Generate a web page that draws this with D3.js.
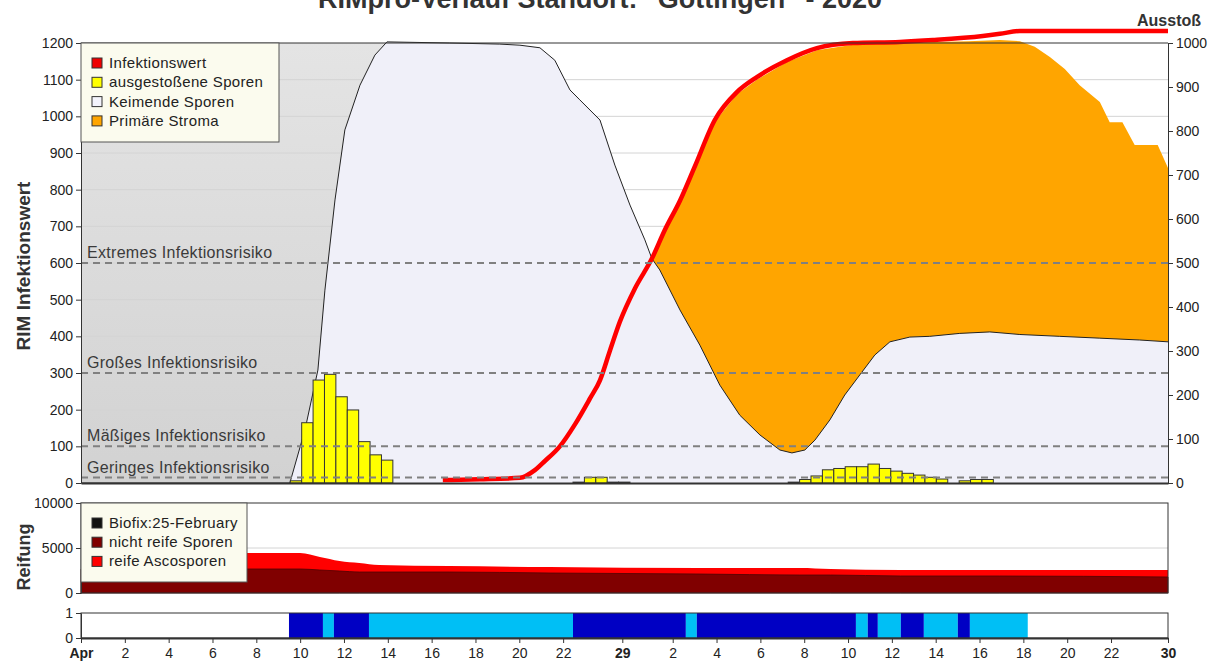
<!DOCTYPE html>
<html>
<head>
<meta charset="utf-8">
<script src="https://cdn.jsdelivr.net/npm/d3@7/dist/d3.min.js"></script>
<style>
body { margin: 0; background: #fff; }
svg { display: block; font-family: "Liberation Sans", Arial, sans-serif; }
</style>
</head>
<body>
<div class="chart"></div>
<script>
// ---- data (time axis in days from the start of the chart) ----
const xTickDays = [0, 2, 4, 6, 8, 10, 12, 14, 16, 18, 20, 22, 24.7, 27, 29, 31, 33, 35, 37, 39, 41, 43, 45, 47, 49.6]
const xTickLabels = ["Apr", "2", "4", "6", "8", "10", "12", "14", "16", "18", "20", "22", "29", "2", "4", "6", "8", "10", "12", "14", "16", "18", "20", "22", "30"]
const boldTicks = ["Apr", "29", "30"]

const leftTicks = [0, 100, 200, 300, 400, 500, 600, 700, 800, 900, 1000, 1100, 1200]
const rightTicks = [0, 100, 200, 300, 400, 500, 600, 700, 800, 900, 1000]
const reifTicks = [0, 5000, 10000]
const stripTicks = [0, 1]

// Keimende Sporen (left axis)
const keimT = [0, 9.53, 10.22, 10.81, 11.13, 11.59, 12.04, 12.73, 13.41, 13.96, 16.83, 19.11, 20.03, 20.94, 21.62, 22.31, 22.76, 23.68, 24.36, 25.05, 25.73, 26.05, 26.41, 27.33, 28.24, 29.15, 30.06, 30.98, 31.89, 32.44, 33.03, 33.49, 34.17, 34.85, 35.54, 36.22, 36.91, 37.82, 38.73, 40.1, 41.47, 42.84, 44.66, 46.49, 48.31, 49.6]
const keimV = [0, 0, 145, 308, 526, 772, 963, 1085, 1167, 1203, 1200, 1197, 1194, 1187, 1153, 1072, 1045, 990, 867, 758, 663, 612, 581, 472, 376, 267, 185, 131, 90, 82, 90, 117, 172, 240, 295, 349, 385, 398, 400, 408, 412, 405, 400, 395, 390, 385]

// Primäre Stroma, upper edge (left axis)
const stromaT = [26.05, 26.64, 27.33, 28.02, 28.92, 29.93, 30.84, 32.21, 33.58, 35.22, 37.36, 38.87, 40.5, 41.93, 42.84, 43.52, 44.21, 44.89, 45.57, 46.49, 46.94, 47.52, 48.08, 49.13, 49.6]
const stromaV = [612, 690, 770, 865, 985, 1060, 1100, 1148, 1180, 1195, 1200, 1203, 1205, 1208, 1205, 1190, 1162, 1129, 1085, 1039, 984, 984, 922, 922, 859]

// Infektionswert (left axis)
const redT = [16.51, 18.2, 20.03, 20.71, 21.17, 21.85, 22.54, 23.22, 23.68, 24.13, 24.59, 25.27, 26.05, 26.64, 27.33, 28.02, 28.92, 29.93, 30.84, 32.21, 33.58, 35.22, 37.36, 38.87, 41.15, 41.93, 42.84, 49.6]
const redV = [8, 10, 14, 35, 60, 100, 160, 230, 280, 360, 440, 530, 612, 690, 770, 865, 990, 1066, 1107, 1153, 1186, 1200, 1203, 1208, 1219, 1225, 1233, 1233]

// ausgestoßene Sporen (right axis), bar start times
const sporeT = [9.55, 10.07, 10.59, 11.11, 11.63, 12.15, 12.67, 13.19, 13.71,
  22.45, 22.97, 23.49, 24.01, 24.53,
  32.27, 32.79, 33.31, 33.83, 34.35, 34.87, 35.39, 35.91, 36.43, 36.95, 37.47, 37.99, 38.51, 39.03, 39.55, 40.07, 40.59, 41.11]
const sporeV = [5, 137, 234, 247, 196, 166, 94, 64, 52,
  2, 13, 13, 2, 2,
  2, 8, 16, 30, 33, 37, 37, 43, 33, 27, 22, 18, 13, 9, 0, 5, 8, 8]
const sporeWidth = 0.52

// risk levels (left axis)
const riskNames = ["Extremes Infektionsrisiko", "Großes Infektionsrisiko", "Mäßiges Infektionsrisiko", "Geringes Infektionsrisiko"]
const riskValues = [600, 300, 100, 15]

// Reifung
const reifT = [0, 10, 10.9, 11.8, 12.7, 13.6, 16.8, 21.4, 28.2, 32.8, 34.2, 37.4, 41.9, 49.6]
const reifTotal = [4444, 4444, 4000, 3556, 3333, 3111, 3000, 2889, 2778, 2778, 2667, 2556, 2556, 2556]
const reifUnripe = [2667, 2667, 2556, 2444, 2333, 2333, 2333, 2222, 2111, 2000, 2000, 1889, 1889, 1778]

// bottom strip
const stripStart = [9.49, 11.04, 11.54, 13.14, 22.45, 27.6, 28.1, 35.36, 35.9, 36.36, 37.41, 38.46, 40.01, 40.56]
const stripEnd = [11.04, 11.54, 13.14, 22.45, 27.6, 28.1, 35.36, 35.9, 36.36, 37.41, 38.46, 40.01, 40.56, 43.2]
const stripType = ["dark", "light", "dark", "light", "dark", "light", "dark", "light", "dark", "light", "dark", "light", "dark", "light"]

const legend1Names = ["Infektionswert", "ausgestoßene Sporen", "Keimende Sporen", "Primäre Stroma"]
const legend1Colors = ["#ee0000", "#ffff00", "#f4f4fc", "#ffa500"]
const legend2Names = ["Biofix:25-February", "nicht reife Sporen", "reife Ascosporen"]
const legend2Colors = ["#111111", "#800000", "#ff0000"]

const grayEnd = 14


function drawChart() {

    let dimensions = {
        width: 1219,
        height: 661,
        left: 81,
        right: 1168,
    }

    const wrapper = d3.select(".chart")
        .append("svg")
        .attr("width", dimensions.width)
        .attr("height", dimensions.height)

    const defs = wrapper.append("defs")
    const grad = defs.append("linearGradient")
        .attr("id", "grayGrad")
        .attr("x1", 0).attr("y1", 0).attr("x2", 0).attr("y2", 1)
    grad.append("stop").attr("offset", "0%").attr("stop-color", "#e4e4e4")
    grad.append("stop").attr("offset", "100%").attr("stop-color", "#d2d2d2")

    const xScale = d3.scaleLinear().domain([0, 49.6]).range([dimensions.left, dimensions.right])
    const yLeft = d3.scaleLinear().domain([0, 1200]).range([483, 43])
    const yRight = d3.scaleLinear().domain([0, 1000]).range([483, 43])
    const yReif = d3.scaleLinear().domain([0, 10000]).range([593, 503])
    const yStrip = d3.scaleLinear().domain([0, 1]).range([638, 613])

    // title (its top is cut off in the original as well)
    wrapper.append("text")
        .attr("x", 600)
        .attr("y", 8)
        .attr("text-anchor", "middle")
        .style("font-size", "27px")
        .style("font-weight", "bold")
        .style("fill", "#333")
        .text("RIMpro-Verlauf Standort: \"Göttingen\" - 2020")

    // ---------- main panel ----------
    const main = wrapper.append("g")

    main.append("rect")
        .attr("x", dimensions.left)
        .attr("y", 43)
        .attr("width", xScale(grayEnd) - dimensions.left)
        .attr("height", 440)
        .attr("fill", "url(#grayGrad)")

    main.selectAll(".grid")
        .data(leftTicks.filter(d => d > 0 && d < 1200))
        .join("line")
        .attr("class", "grid")
        .attr("x1", dimensions.left)
        .attr("x2", dimensions.right)
        .attr("y1", d => yLeft(d))
        .attr("y2", d => yLeft(d))
        .attr("stroke", "#d4d4d4")
        .attr("stroke-width", 1)

    const keimData = keimT.map((t, i) => ({ t: t, v: keimV[i] }))

    const keimArea = d3.area()
        .x(d => xScale(d.t))
        .y0(yLeft(0))
        .y1(d => yLeft(d.v))

    main.append("path")
        .attr("d", keimArea(keimData))
        .attr("fill", "#f0f0f9")

    // orange stroma band between keimende curve and its upper edge
    const stromaUpper = stromaT.map((t, i) => [xScale(t), yLeft(stromaV[i])])
    const stromaLower = keimData
        .filter(d => d.t >= stromaT[0])
        .map(d => [xScale(d.t), yLeft(d.v)])
        .reverse()

    main.append("path")
        .attr("d", d3.line()(stromaUpper.concat(stromaLower)) + "Z")
        .attr("fill", "#ffa500")

    main.append("path")
        .attr("d", d3.line().x(d => xScale(d.t)).y(d => yLeft(d.v))(keimData))
        .attr("fill", "none")
        .attr("stroke", "#222")
        .attr("stroke-width", 1)

    // spores
    const sporeData = sporeT.map((t, i) => ({ t: t, v: sporeV[i] }))

    main.selectAll(".spore")
        .data(sporeData.filter(d => d.v > 0))
        .join("rect")
        .attr("class", "spore")
        .attr("x", d => xScale(d.t))
        .attr("width", d => xScale(d.t + sporeWidth) - xScale(d.t))
        .attr("y", d => yRight(d.v))
        .attr("height", d => yRight(0) - yRight(d.v))
        .attr("fill", "#ffff00")
        .attr("stroke", "#333")
        .attr("stroke-width", 1)

    // infection value line
    const redData = redT.map((t, i) => ({ t: t, v: redV[i] }))
    main.append("path")
        .attr("d", d3.line()
            .x(d => xScale(d.t))
            .y(d => yLeft(d.v))
            .curve(d3.curveMonotoneX)(redData))
        .attr("fill", "none")
        .attr("stroke", "#ff0000")
        .attr("stroke-width", 4.5)
        .attr("stroke-linejoin", "round")

    // risk lines
    main.selectAll(".risk")
        .data(riskValues)
        .join("line")
        .attr("class", "risk")
        .attr("x1", dimensions.left)
        .attr("x2", dimensions.right)
        .attr("y1", d => yLeft(d))
        .attr("y2", d => yLeft(d))
        .attr("stroke", "#808080")
        .attr("stroke-width", 2)
        .attr("stroke-dasharray", "7,5")

    main.selectAll(".riskLabel")
        .data(riskNames)
        .join("text")
        .attr("class", "riskLabel")
        .attr("x", dimensions.left + 6)
        .attr("y", (d, i) => yLeft(riskValues[i]) - 5)
        .style("font-size", "16px")
        .style("letter-spacing", "0.3px")
        .style("fill", "#3a3a3a")
        .text(d => d)

    // frame
    main.append("line")
        .attr("x1", dimensions.left).attr("x2", dimensions.right)
        .attr("y1", 43).attr("y2", 43)
        .attr("stroke", "#333")

    const leftAxis = d3.axisLeft(yLeft).tickValues(leftTicks).tickFormat(d3.format("d")).tickSize(5).tickSizeOuter(0)
    const rightAxis = d3.axisRight(yRight).tickValues(rightTicks).tickFormat(d3.format("d")).tickSize(5).tickSizeOuter(0)

    main.append("g").attr("transform", `translate(${dimensions.left},0)`).call(leftAxis)
    main.append("g").attr("transform", `translate(${dimensions.right},0)`).call(rightAxis)
    main.append("g").attr("transform", `translate(0,483)`)
        .call(d3.axisBottom(xScale).tickValues([]).tickSizeOuter(0))
        .select(".domain").attr("stroke-width", 2)

    // legend 1
    const leg1 = main.append("g")
    leg1.append("rect")
        .attr("x", dimensions.left)
        .attr("y", 43)
        .attr("width", 198)
        .attr("height", 99)
        .attr("fill", "#fbfbee")
        .attr("stroke", "#555")

    const leg1Items = leg1.selectAll(".item")
        .data(legend1Names)
        .join("g")
        .attr("class", "item")
        .attr("transform", (d, i) => `translate(92, ${63 + i * 19.3})`)

    leg1Items.append("rect")
        .attr("x", 0).attr("y", -5)
        .attr("width", 10).attr("height", 10)
        .attr("fill", (d, i) => legend1Colors[i])
        .attr("stroke", "#333")

    leg1Items.append("text")
        .attr("x", 17).attr("y", 5)
        .style("font-size", "15px")
        .style("letter-spacing", "0.35px")
        .style("fill", "#222")
        .text(d => d)

    // axis titles
    wrapper.append("text")
        .attr("transform", "translate(30,266) rotate(-90)")
        .attr("text-anchor", "middle")
        .style("font-size", "19px")
        .style("font-weight", "bold")
        .style("fill", "#333")
        .text("RIM Infektionswert")

    wrapper.append("text")
        .attr("x", 1201)
        .attr("y", 26)
        .attr("text-anchor", "end")
        .style("font-size", "16px")
        .style("font-weight", "bold")
        .style("fill", "#333")
        .text("Ausstoß")

    // ---------- Reifung panel ----------
    const reif = wrapper.append("g")

    reif.append("line")
        .attr("x1", dimensions.left).attr("x2", dimensions.right)
        .attr("y1", yReif(5000)).attr("y2", yReif(5000))
        .attr("stroke", "#d4d4d4")

    const reifData = reifT.map((t, i) => ({ t: t, total: reifTotal[i], unripe: reifUnripe[i] }))

    reif.append("path")
        .attr("d", d3.area().x(d => xScale(d.t)).y0(yReif(0)).y1(d => yReif(d.total)).curve(d3.curveMonotoneX)(reifData))
        .attr("fill", "#ff0000")
    reif.append("path")
        .attr("d", d3.area().x(d => xScale(d.t)).y0(yReif(0)).y1(d => yReif(d.unripe)).curve(d3.curveMonotoneX)(reifData))
        .attr("fill", "#800000")
        .attr("stroke", "#500000")
        .attr("stroke-width", 0.8)

    reif.append("rect")
        .attr("x", dimensions.left).attr("y", 503)
        .attr("width", dimensions.right - dimensions.left).attr("height", 90)
        .attr("fill", "none").attr("stroke", "#333")

    reif.append("g").attr("transform", `translate(${dimensions.left},0)`)
        .call(d3.axisLeft(yReif).tickValues(reifTicks).tickFormat(d3.format("d")).tickSize(5).tickSizeOuter(0))

    const leg2 = reif.append("g")
    leg2.append("rect")
        .attr("x", dimensions.left).attr("y", 503)
        .attr("width", 166).attr("height", 79)
        .attr("fill", "#fbfbee").attr("stroke", "#555")
    const leg2Items = leg2.selectAll(".item")
        .data(legend2Names)
        .join("g")
        .attr("class", "item")
        .attr("transform", (d, i) => `translate(92, ${523 + i * 19.2})`)
    leg2Items.append("rect")
        .attr("x", 0).attr("y", -5)
        .attr("width", 10).attr("height", 10)
        .attr("fill", (d, i) => legend2Colors[i])
        .attr("stroke", "#333")
    leg2Items.append("text")
        .attr("x", 17).attr("y", 5)
        .style("font-size", "15px")
        .style("letter-spacing", "0.35px")
        .style("fill", "#222")
        .text(d => d)

    wrapper.append("text")
        .attr("transform", "translate(30,557) rotate(-90)")
        .attr("text-anchor", "middle")
        .style("font-size", "18px")
        .style("font-weight", "bold")
        .style("fill", "#333")
        .text("Reifung")

    // ---------- strip ----------
    const strip = wrapper.append("g")
    strip.selectAll(".seg")
        .data(stripStart)
        .join("rect")
        .attr("class", "seg")
        .attr("x", d => xScale(d))
        .attr("width", (d, i) => xScale(stripEnd[i]) - xScale(d))
        .attr("y", yStrip(1))
        .attr("height", yStrip(0) - yStrip(1))
        .attr("fill", (d, i) => stripType[i] == "dark" ? "#0000c4" : "#00bff5")

    strip.append("rect")
        .attr("x", dimensions.left).attr("y", yStrip(1))
        .attr("width", dimensions.right - dimensions.left).attr("height", yStrip(0) - yStrip(1))
        .attr("fill", "none").attr("stroke", "#333")

    strip.append("g").attr("transform", `translate(${dimensions.left},0)`)
        .call(d3.axisLeft(yStrip).tickValues(stripTicks).tickFormat(d3.format("d")).tickSize(5).tickSizeOuter(0))

    const xAxis = strip.append("g")
        .attr("transform", `translate(0,${yStrip(0)})`)
        .call(d3.axisBottom(xScale)
            .tickValues(xTickDays)
            .tickFormat((d, i) => xTickLabels[i])
            .tickSize(5)
            .tickSizeOuter(0))
    xAxis.select(".domain").attr("stroke-width", 2)
    xAxis.selectAll(".tick text")
        .attr("y", 10)
        .style("font-weight", d => boldTicks.includes(xTickLabels[xTickDays.indexOf(d)]) ? "bold" : "normal")

    // shared axis styling
    wrapper.selectAll(".tick text")
        .style("font-size", "14px")
        .style("fill", "#222")
        .style("font-family", "\"Liberation Sans\", Arial, sans-serif")
    wrapper.selectAll(".tick line").attr("stroke", "#333")
    wrapper.selectAll(".domain").attr("stroke", "#333")
}

drawChart()
</script>
</body>
</html>
